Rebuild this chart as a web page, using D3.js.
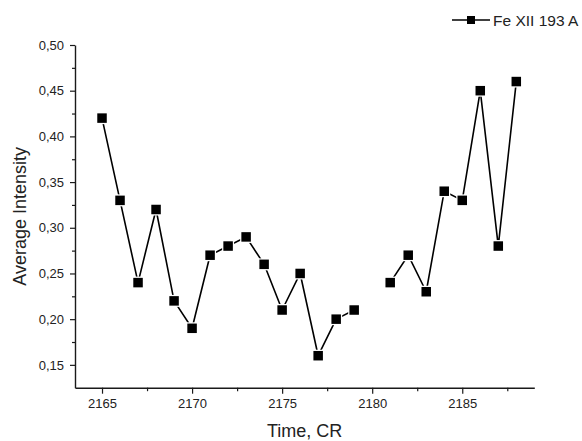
<!DOCTYPE html>
<html>
<head>
<meta charset="utf-8">
<script src="https://cdn.jsdelivr.net/npm/d3@7"></script>
<style>
  html, body { margin: 0; padding: 0; background: #fff; }
  svg { display: block; font-family: "Liberation Sans", Arial, sans-serif; }
</style>
</head>
<body>
<svg id="chart" width="582" height="441"></svg>
<script>
// Carrington rotations and Fe XII 193 A average intensity (no value for 2180)
const rotations = [2165, 2166, 2167, 2168, 2169, 2170, 2171, 2172, 2173, 2174, 2175, 2176,
                   2177, 2178, 2179, 2180, 2181, 2182, 2183, 2184, 2185, 2186, 2187, 2188];
const intensity = [0.42, 0.33, 0.24, 0.32, 0.22, 0.19, 0.27, 0.28, 0.29, 0.26, 0.21, 0.25,
                   0.16, 0.20, 0.21, null, 0.24, 0.27, 0.23, 0.34, 0.33, 0.45, 0.28, 0.46];
const xTicks = [2165, 2170, 2175, 2180, 2185];
const xMinorTicks = [2167.5, 2172.5, 2177.5, 2182.5, 2187.5];
const yTicks = [0.15, 0.20, 0.25, 0.30, 0.35, 0.40, 0.45, 0.50];
const yMinorTicks = [0.175, 0.225, 0.275, 0.325, 0.375, 0.425, 0.475];
const seriesName = "Fe XII 193 A";

const data = rotations.map((r, i) => ({ x: r, y: intensity[i] }));

const svg = d3.select("#chart");
const plotLeft = 75, plotRight = 534.3, plotTop = 45, plotBottom = 387.7;

const x = d3.scaleLinear().domain([2163.5, 2189]).range([plotLeft, plotRight]);
const y = d3.scaleLinear().domain([0.125, 0.50]).range([plotBottom, plotTop]);

const comma = d => d3.format(".2f")(d).replace(".", ",");
const ink = "#1a1a1a";

// Bottom axis with minor ticks
const gx = svg.append("g").attr("transform", `translate(0,${plotBottom})`);
gx.call(d3.axisBottom(x).tickValues(xTicks).tickSize(6).tickPadding(5)
  .tickSizeOuter(0).tickFormat(d3.format("d")));
gx.append("g").call(d3.axisBottom(x).tickValues(xMinorTicks).tickSize(3.5).tickFormat(""))
  .select(".domain").remove();

// Left axis with minor ticks
const gy = svg.append("g").attr("transform", `translate(${plotLeft},0)`);
gy.call(d3.axisLeft(y).tickValues(yTicks).tickSize(5).tickPadding(6)
  .tickSizeOuter(0).tickFormat(comma));
gy.append("g").call(d3.axisLeft(y).tickValues(yMinorTicks).tickSize(3).tickFormat(""))
  .select(".domain").remove();

svg.selectAll(".domain").attr("stroke", ink).attr("stroke-width", 1.4);
svg.selectAll(".tick line").attr("stroke", ink).attr("stroke-width", 1.2);
svg.selectAll(".tick text").attr("fill", "#222").style("font-size", "13px")
  .style("font-family", "'Liberation Sans', Arial, sans-serif");

// Series line, broken where a rotation has no value
const line = d3.line().defined(d => d.y !== null).x(d => x(d.x)).y(d => y(d.y));
svg.append("path").datum(data)
  .attr("d", line).attr("fill", "none").attr("stroke", "#000")
  .attr("stroke-width", 1.6).attr("stroke-linejoin", "round");

// Square markers with a thin white halo that opens the line near each symbol
const pts = data.filter(d => d.y !== null);
const s = 9.5, halo = 12;
svg.append("g").selectAll("rect").data(pts).join("rect")
  .attr("x", d => x(d.x) - halo / 2).attr("y", d => y(d.y) - halo / 2)
  .attr("width", halo).attr("height", halo).attr("fill", "#fff");
svg.append("g").selectAll("rect").data(pts).join("rect")
  .attr("x", d => x(d.x) - s / 2).attr("y", d => y(d.y) - s / 2)
  .attr("width", s).attr("height", s).attr("fill", "#000");

// Axis titles
svg.append("text").attr("x", (plotLeft + plotRight) / 2).attr("y", 437)
  .attr("text-anchor", "middle").attr("fill", "#222").style("font-size", "18px")
  .text("Time, CR");
svg.append("text").attr("transform", `translate(26,${(plotTop + plotBottom) / 2}) rotate(-90)`)
  .attr("text-anchor", "middle").attr("fill", "#222").style("font-size", "18px")
  .text("Average Intensity");

// Legend
const lg = svg.append("g").attr("transform", "translate(452,20)");
lg.append("line").attr("x1", 0).attr("x2", 38).attr("y1", 0).attr("y2", 0)
  .attr("stroke", "#000").attr("stroke-width", 1.6);
lg.append("rect").attr("x", 19 - 4).attr("y", -4).attr("width", 8).attr("height", 8).attr("fill", "#000");
lg.append("text").attr("x", 41).attr("y", 5.5).attr("fill", "#222").style("font-size", "15.5px")
  .text(seriesName);
</script>
</body>
</html>
